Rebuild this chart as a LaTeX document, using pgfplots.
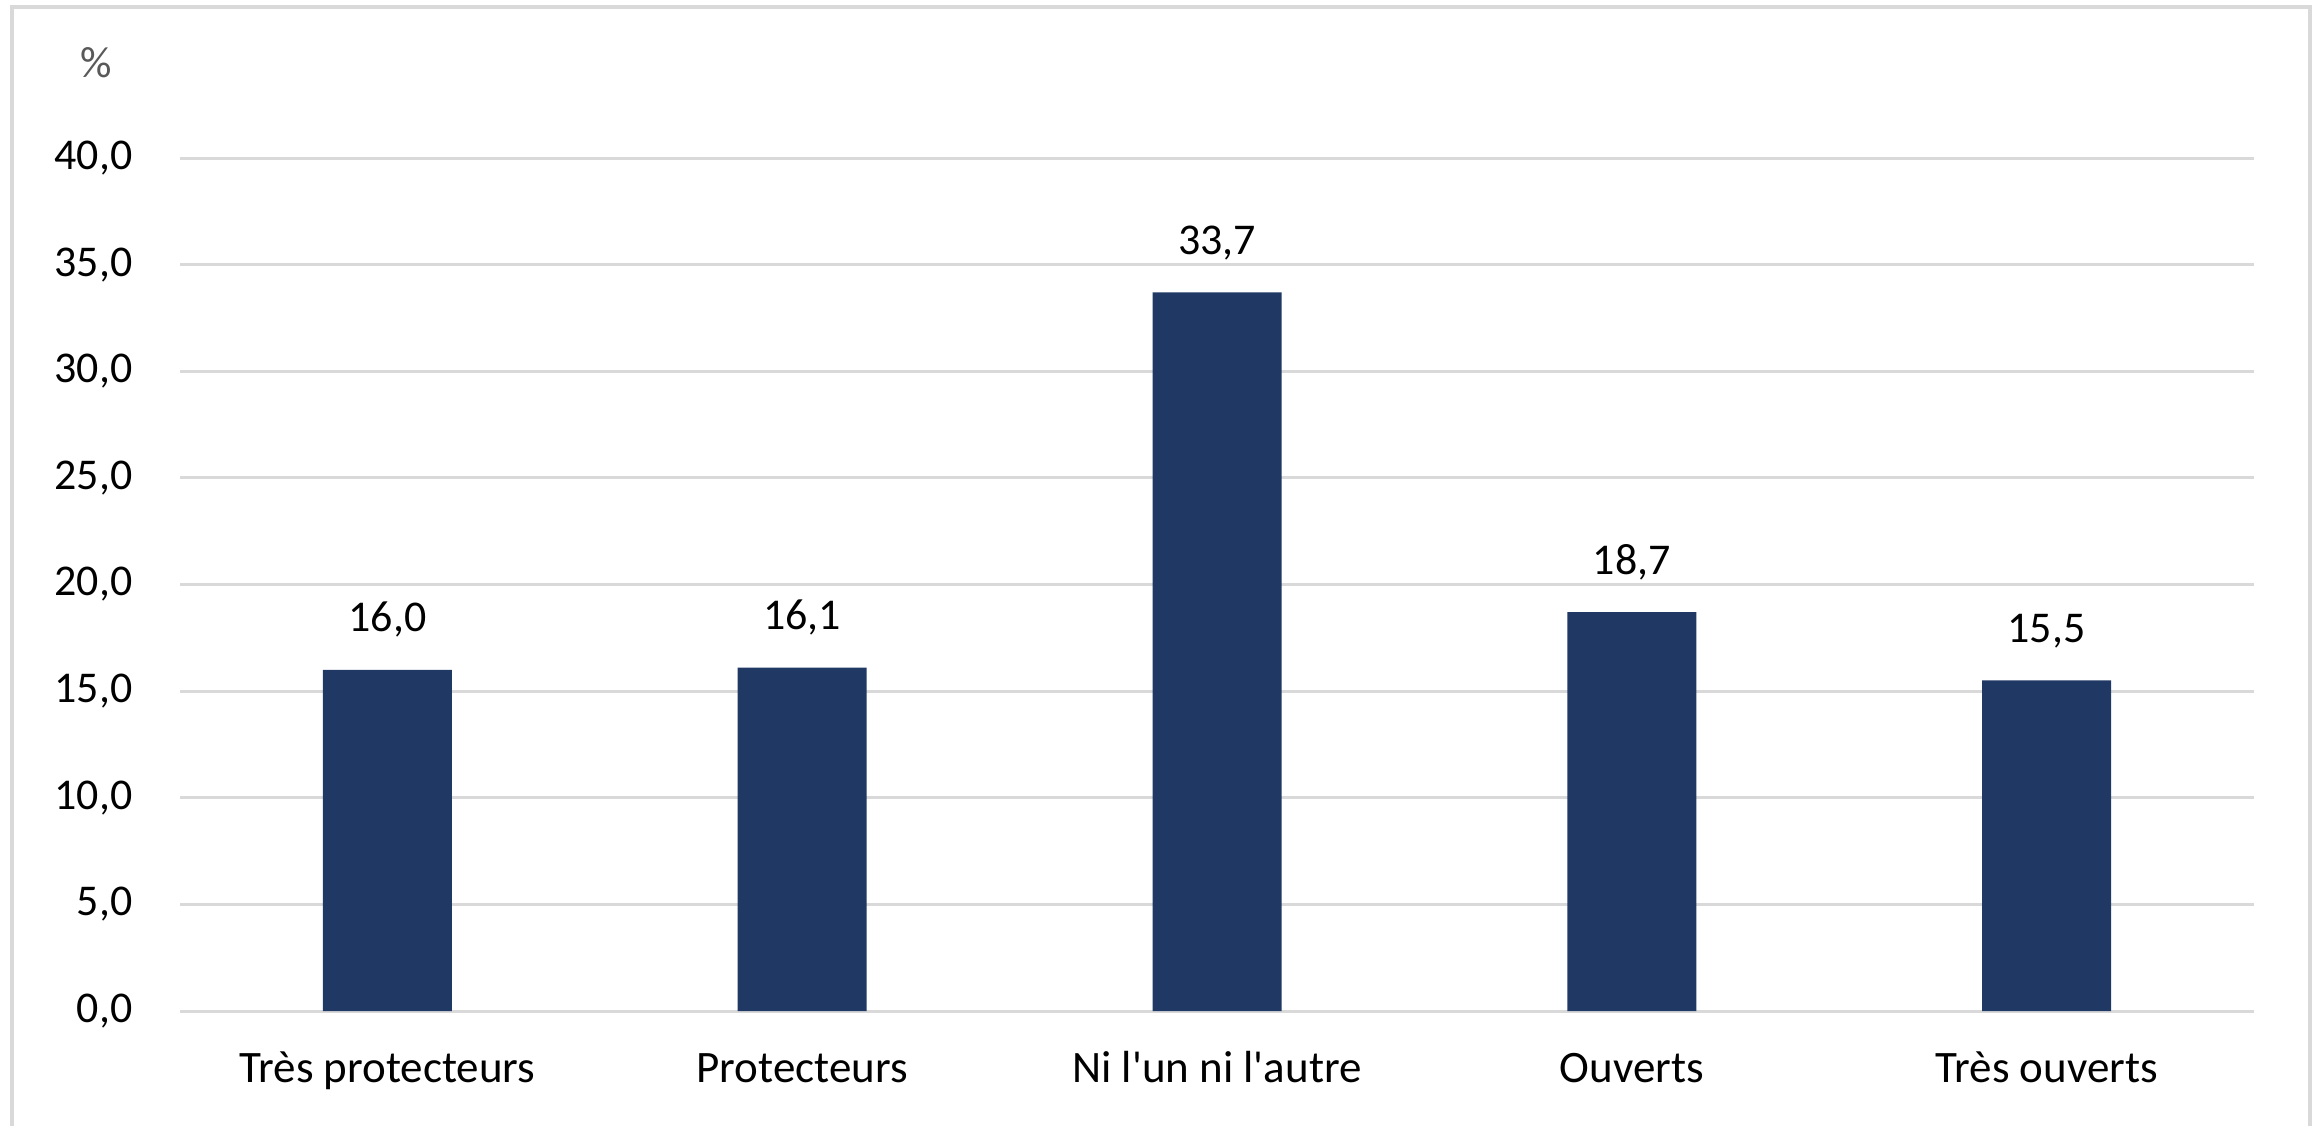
\documentclass[border=0pt]{standalone}
\usepackage{fontspec}
\setmainfont{Carlito}
\usepackage{pgfplots}
\pgfplotsset{compat=1.18}
\definecolor{barblue}{RGB}{31,56,100}
\definecolor{gridgray}{RGB}{217,217,217}
\definecolor{pctgray}{RGB}{89,89,89}
\newcommand{\lbl}{\fontsize{12.5}{15}\selectfont}
\newcommand{\catl}{\fontsize{12.8}{15}\selectfont}
\begin{document}
\lbl
\begin{tikzpicture}
\useasboundingbox (0mm,0mm) rectangle (232.1mm,112.5mm);
\draw[gridgray, line width=0.4mm] (1.2mm,-3mm) -- (1.2mm,111.8mm) -- (231.0mm,111.8mm) -- (231.0mm,-3mm);
\node[anchor=base, text=pctgray, inner sep=0pt, font=\lbl] at (9.6mm,104.7mm) {\%};
\begin{axis}[
  at={(18mm,11.4mm)}, anchor=south west,
  scale only axis, width=207.4mm, height=85.3mm,
  ymin=0, ymax=40, ytick={0,5,...,40},
  xmin=-0.5, xmax=4.5, xtick={0,1,2,3,4},
  xticklabels={Très protecteurs, Protecteurs, Ni l\textquotesingle un ni l\textquotesingle autre, Ouverts, Très ouverts},
  enlargelimits=false, clip=false,
  axis line style={draw=none},
  major tick length=0pt,
  tick style={draw=none},
  ymajorgrids, grid style={gridgray, line width=0.3mm},
  yticklabel style={font=\lbl, anchor=east, inner sep=0pt, xshift=-4.7mm,
     /pgf/number format/.cd, fixed, fixed zerofill, precision=1, use comma, assume math mode=true},
  xticklabel style={font=\catl, anchor=base, inner sep=0pt, yshift=-7.1mm},
  ybar, bar width=12.9mm,
  nodes near coords,
  every node near coord/.append style={font=\lbl, anchor=base, inner sep=0pt, yshift=3.8mm, text=black,
     /pgf/number format/.cd, fixed, fixed zerofill, precision=1, use comma, assume math mode=true},
]
\addplot[fill=barblue, draw=none] coordinates {(0,16.0) (1,16.1) (2,33.7) (3,18.7) (4,15.5)};
\end{axis}
\end{tikzpicture}
\end{document}
